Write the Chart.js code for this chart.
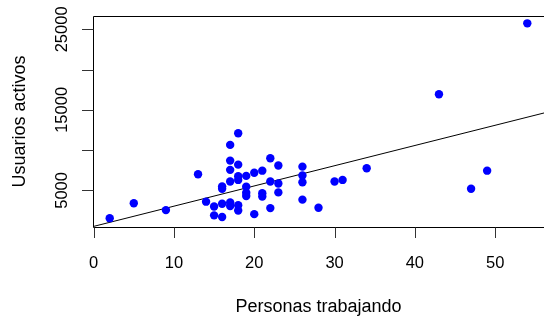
<!DOCTYPE html>
<html>
<head>
<meta charset="utf-8">
<script src="https://cdn.jsdelivr.net/npm/chart.js@4/dist/chart.umd.min.js"></script>
<style>
html,body{margin:0;padding:0;background:#fff;overflow:hidden;width:544px;height:323px;}
#wrap{width:560px;height:323px;}
</style>
</head>
<body>
<div id="wrap"><canvas id="c" width="560" height="323"></canvas></div>
<script>
// Data
const personas = [2, 5, 9, 13, 14, 15, 15, 16, 16, 16, 16, 17, 17, 17, 17, 17, 17, 18, 18, 18, 18, 18, 18, 19, 19, 19, 19, 20, 20, 21, 21, 21, 22, 22, 22, 23, 23, 23, 26, 26, 26, 26, 28, 30, 31, 34, 43, 47, 49, 54];
const usuarios = [1550, 3400, 2550, 7000, 3600, 3000, 1900, 5500, 5200, 3350, 1700, 10650, 8700, 7550, 6100, 3500, 3050, 12100, 8200, 6750, 6300, 3150, 2500, 6800, 5450, 4700, 4300, 7200, 2050, 7450, 4650, 4250, 9000, 6100, 2800, 8100, 5850, 4750, 7950, 6850, 6000, 3850, 2850, 6100, 6300, 7750, 16950, 5200, 7450, 25750];
const regIntercept = 528;
const regSlope = 251.2;
const xTicks = [0, 10, 20, 30, 40, 50];
const xTickLabels = ['0', '10', '20', '30', '40', '50'];
const yTicks = [5000, 10000, 15000, 20000, 25000];
const yTickLabels = ['5000', '', '15000', '', '25000'];
const xTitle = 'Personas trabajando';
const yTitle = 'Usuarios activos';
const xRange = [-0.08, 56.08];
const yRange = [453, 26660];

const points = personas.map((x, i) => ({x: x, y: usuarios[i]}));
const regLine = xRange.map(x => ({x: x, y: regIntercept + regSlope * x}));

const FONT = '"Liberation Sans", Arial, sans-serif';

const axesPlugin = {
  id: 'rAxes',
  afterDraw(chart) {
    const ctx = chart.ctx;
    const xs = chart.scales.x, ys = chart.scales.y;
    const a = chart.chartArea;
    ctx.save();
    // box
    ctx.strokeStyle = '#000';
    ctx.lineWidth = 1;
    ctx.beginPath();
    ctx.moveTo(a.left + 0.5, a.bottom + 0.5);
    ctx.lineTo(a.left + 0.5, a.top + 0.5);
    ctx.lineTo(a.right + 0.5, a.top + 0.5);
    ctx.lineTo(a.right + 0.5, a.bottom + 0.5);
    ctx.closePath();
    ctx.stroke();
    // x ticks
    ctx.strokeStyle = '#333';
    ctx.beginPath();
    xTicks.forEach(v => {
      const px = Math.round(xs.getPixelForValue(v)) + 0.5;
      ctx.moveTo(px, a.bottom + 0.5);
      ctx.lineTo(px, a.bottom + 11);
    });
    // y ticks
    yTicks.forEach(v => {
      const py = Math.round(ys.getPixelForValue(v)) + 0.5;
      ctx.moveTo(a.left + 0.5, py);
      ctx.lineTo(a.left - 11, py);
    });
    ctx.stroke();
    // x tick labels
    ctx.fillStyle = '#000';
    ctx.font = '16.5px ' + FONT;
    ctx.textAlign = 'center';
    ctx.textBaseline = 'alphabetic';
    xTicks.forEach((v, i) => {
      ctx.fillText(xTickLabels[i], xs.getPixelForValue(v), 267.5);
    });
    // y tick labels (rotated)
    yTicks.forEach((v, i) => {
      if (!yTickLabels[i]) return;
      ctx.save();
      ctx.translate(66.5, ys.getPixelForValue(v));
      ctx.rotate(-Math.PI / 2);
      ctx.fillText(yTickLabels[i], 0, 0);
      ctx.restore();
    });
    // titles
    ctx.font = '18px ' + FONT;
    ctx.fillText(xTitle, (a.left + a.right) / 2, 312);
    ctx.save();
    ctx.translate(25, (a.top + a.bottom) / 2);
    ctx.rotate(-Math.PI / 2);
    ctx.fillText(yTitle, 0, 0);
    ctx.restore();
    ctx.restore();
  }
};

new Chart(document.getElementById('c'), {
  type: 'scatter',
  data: {
    datasets: [
      {
        type: 'line',
        data: regLine,
        borderColor: '#000',
        borderWidth: 1,
        pointRadius: 0,
        fill: false,
        order: 2
      },
      {
        data: points,
        backgroundColor: '#0000ff',
        borderColor: '#0000ff',
        borderWidth: 0,
        pointRadius: 4.2,
        pointHoverRadius: 4.2,
        order: 1
      }
    ]
  },
  options: {
    responsive: false,
    animation: false,
    devicePixelRatio: 1,
    layout: {padding: {left: 93, top: 16, right: 16, bottom: 96}},
    plugins: {legend: {display: false}, tooltip: {enabled: false}},
    events: [],
    scales: {
      x: {type: 'linear', min: xRange[0], max: xRange[1], display: false},
      y: {type: 'linear', min: yRange[0], max: yRange[1], display: false}
    }
  },
  plugins: [axesPlugin]
});
</script>
</body>
</html>
